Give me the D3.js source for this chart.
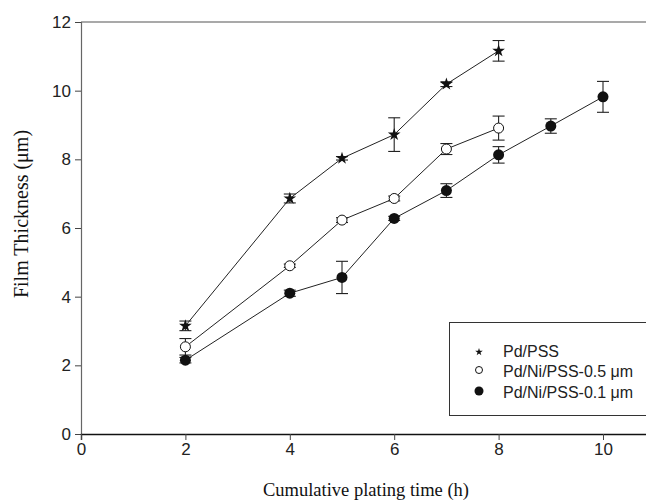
<!DOCTYPE html>
<html>
<head>
<meta charset="utf-8">
<script src="https://cdn.jsdelivr.net/npm/d3@7/dist/d3.min.js"></script>
<style>
  html, body { margin: 0; padding: 0; background: #fff; }
  svg { display: block; }
</style>
</head>
<body>
<svg id="chart" width="646" height="504"></svg>
<script>
// Film thickness vs. cumulative plating time, three membrane types
const xTicks = [0, 2, 4, 6, 8, 10];
const yTicks = [0, 2, 4, 6, 8, 10, 12];

const pdPssTime = [2, 4, 5, 6, 7, 8];
const pdPssThick = [3.15, 6.86, 8.03, 8.72, 10.19, 11.16];
const pdPssErr = [0.14, 0.13, 0.05, 0.49, 0.07, 0.3];

const ni05Time = [2, 4, 5, 6, 7, 8];
const ni05Thick = [2.54, 4.9, 6.23, 6.86, 8.3, 8.91];
const ni05Err = [0.24, 0.05, 0.07, 0.07, 0.16, 0.35];

const ni01Time = [2, 4, 5, 6, 7, 8, 9, 10];
const ni01Thick = [2.15, 4.1, 4.56, 6.28, 7.09, 8.13, 8.97, 9.82];
const ni01Err = [0.08, 0.09, 0.47, 0.06, 0.2, 0.24, 0.21, 0.45];

const legendLabels = ["Pd/PSS", "Pd/Ni/PSS-0.5 \u03bcm", "Pd/Ni/PSS-0.1 \u03bcm"];

const svg = d3.select("#chart");
const plotLeft = 81, plotTop = 22, plotBottom = 434;

const x = d3.scaleLinear().domain([0, 11]).range([plotLeft, plotLeft + 11 * 52.2]);
const y = d3.scaleLinear().domain([0, 12]).range([plotBottom, plotTop]);

// top frame line
svg.append("line")
  .attr("x1", plotLeft).attr("x2", 646)
  .attr("y1", plotTop).attr("y2", plotTop)
  .attr("stroke", "#555").attr("stroke-width", 1.2);

const yAxis = svg.append("g")
  .attr("transform", `translate(${plotLeft},0)`)
  .call(d3.axisLeft(y).tickValues(yTicks).tickSize(6).tickPadding(4));
yAxis.select(".domain").attr("stroke", "#666").attr("stroke-width", 1.2);
yAxis.selectAll(".tick line").attr("stroke", "#444");
yAxis.selectAll("text")
  .attr("font-family", "Liberation Sans, Arial, sans-serif")
  .attr("font-size", 17).attr("fill", "#222");

const xAxis = svg.append("g")
  .attr("transform", `translate(0,${plotBottom})`)
  .call(d3.axisBottom(x).tickValues(xTicks).tickSize(6).tickPadding(3));
xAxis.select(".domain").attr("stroke", "#111").attr("stroke-width", 1.4);
xAxis.selectAll(".tick line").attr("stroke", "#444");
xAxis.selectAll("text")
  .attr("font-family", "Liberation Sans, Arial, sans-serif")
  .attr("font-size", 17).attr("fill", "#222");

// axis titles
svg.append("text")
  .attr("x", 366).attr("y", 496)
  .attr("text-anchor", "middle")
  .attr("font-family", "Liberation Serif, Times New Roman, serif")
  .attr("font-size", 18.5).attr("fill", "#111")
  .text("Cumulative plating time (h)");

svg.append("text")
  .attr("transform", "translate(28,214) rotate(-90)")
  .attr("text-anchor", "middle")
  .attr("font-family", "Liberation Serif, Times New Roman, serif")
  .attr("font-size", 20).attr("fill", "#111")
  .text("Film Thickness (\u03bcm)");

const star = d3.symbol().type(d3.symbolStar).size(50);

function drawMarkers(g, coords, kind) {
  const sel = g.selectAll(".m").data(coords).enter();
  if (kind === "star") {
    sel.append("path").attr("d", star)
      .attr("transform", d => `translate(${d[0]},${d[1]})`)
      .attr("fill", "#111");
  } else if (kind === "open") {
    sel.append("circle").attr("cx", d => d[0]).attr("cy", d => d[1]).attr("r", 5)
      .attr("fill", "#fff").attr("stroke", "#111").attr("stroke-width", 1);
  } else {
    sel.append("circle").attr("cx", d => d[0]).attr("cy", d => d[1]).attr("r", 5.5)
      .attr("fill", "#111");
  }
}

function drawSeries(times, vals, errs, kind) {
  const pts = times.map((t, i) => ({ t, v: vals[i], e: errs[i] }));
  const g = svg.append("g");
  g.append("path")
    .datum(pts)
    .attr("fill", "none").attr("stroke", "#222").attr("stroke-width", 1)
    .attr("d", d3.line().x(d => x(d.t)).y(d => y(d.v)));
  const eb = g.selectAll(".eb").data(pts).enter().append("g")
    .attr("stroke", "#222").attr("stroke-width", 1.1);
  eb.append("line")
    .attr("x1", d => x(d.t)).attr("x2", d => x(d.t))
    .attr("y1", d => y(d.v + d.e)).attr("y2", d => y(d.v - d.e));
  eb.append("line")
    .attr("x1", d => x(d.t) - 6).attr("x2", d => x(d.t) + 6)
    .attr("y1", d => y(d.v + d.e)).attr("y2", d => y(d.v + d.e));
  eb.append("line")
    .attr("x1", d => x(d.t) - 6).attr("x2", d => x(d.t) + 6)
    .attr("y1", d => y(d.v - d.e)).attr("y2", d => y(d.v - d.e));
  drawMarkers(g, pts.map(d => [x(d.t), y(d.v)]), kind);
}

drawSeries(pdPssTime, pdPssThick, pdPssErr, "star");
drawSeries(ni05Time, ni05Thick, ni05Err, "open");
drawSeries(ni01Time, ni01Thick, ni01Err, "filled");

// legend
const lg = svg.append("g");
lg.append("rect")
  .attr("x", 449.5).attr("y", 322.5).attr("width", 210).attr("height", 93)
  .attr("fill", "#fff").attr("stroke", "#333").attr("stroke-width", 1);
const kinds = ["star", "open", "filled"];
const rows = [352, 372, 393];
kinds.forEach((k, i) => {
  const mg = lg.append("g");
  if (k === "star") {
    mg.append("path").attr("d", d3.symbol().type(d3.symbolStar).size(18))
      .attr("transform", `translate(479,${rows[i]})`).attr("fill", "#111");
  } else if (k === "open") {
    mg.append("circle").attr("cx", 479).attr("cy", rows[i] - 2).attr("r", 3.5)
      .attr("fill", "#fff").attr("stroke", "#111").attr("stroke-width", 1);
  } else {
    mg.append("circle").attr("cx", 479).attr("cy", rows[i] - 2).attr("r", 4.5)
      .attr("fill", "#111");
  }
  lg.append("text")
    .attr("x", 503).attr("y", rows[i] + 5)
    .attr("font-family", "Liberation Sans, Arial, sans-serif")
    .attr("font-size", 16).attr("fill", "#222")
    .text(legendLabels[i]);
});
</script>
</body>
</html>
